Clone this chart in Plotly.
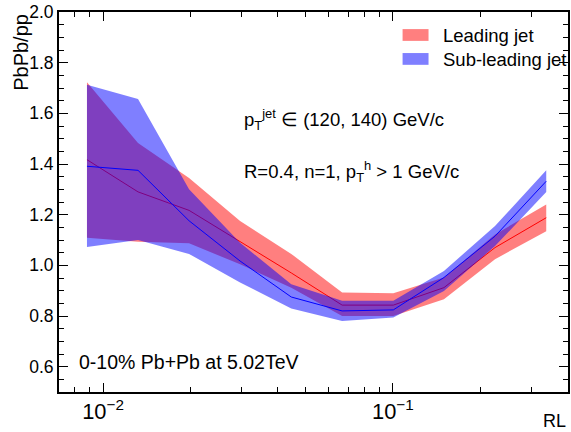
import plotly.graph_objects as go

# ---- data ----
rl = [0.0088, 0.0132, 0.0198, 0.0297, 0.0446, 0.0668, 0.1003, 0.150, 0.225, 0.338]

lead_mid = [1.417, 1.290, 1.217, 1.095, 0.970, 0.843, 0.843, 0.912, 1.070, 1.188]
lead_hi  = [1.723, 1.483, 1.345, 1.175, 1.045, 0.893, 0.890, 0.952, 1.122, 1.240]
lead_lo  = [1.109, 1.093, 1.087, 1.004, 0.912, 0.800, 0.800, 0.866, 1.024, 1.135]

sub_mid = [1.391, 1.375, 1.176, 1.017, 0.875, 0.820, 0.824, 0.952, 1.115, 1.332]
sub_hi  = [1.713, 1.657, 1.300, 1.089, 0.925, 0.860, 0.860, 0.978, 1.155, 1.375]
sub_lo  = [1.072, 1.100, 1.045, 0.932, 0.830, 0.780, 0.794, 0.899, 1.076, 1.289]

series = [
    ("Leading jet", lead_mid, lead_hi, lead_lo, "rgba(255,0,0,0.5)", "rgb(255,0,0)"),
    ("Sub-leading jet", sub_mid, sub_hi, sub_lo, "rgba(0,0,255,0.5)", "rgb(0,0,255)"),
]

FONT = "Liberation Sans, Arial, Helvetica, sans-serif"

fig = go.Figure()
for name, mid, hi, lo, fc, lc in series:
    fig.add_trace(go.Scatter(
        x=rl + rl[::-1], y=hi + lo[::-1], fill="toself", fillcolor=fc,
        line=dict(width=0), mode="lines", name=name, showlegend=False,
        hoverinfo="skip"))
    fig.add_trace(go.Scatter(
        x=rl, y=mid, mode="lines", line=dict(color=lc, width=1),
        showlegend=False))

# legend drawn manually (ROOT style)
leg = [("Leading jet", "rgba(255,0,0,0.5)", 0.924, 0.955, 0.939),
       ("Sub-leading jet", "rgba(0,0,255,0.5)", 0.861, 0.892, 0.876)]
for txt, col, y0, y1, yc in leg:
    fig.add_shape(type="rect", xref="paper", yref="paper",
                  x0=0.675, x1=0.726, y0=y0, y1=y1,
                  fillcolor=col, line=dict(width=0))
    fig.add_annotation(xref="paper", yref="paper", x=0.751, y=yc,
                       text=txt, showarrow=False, xanchor="left",
                       yanchor="middle", font=dict(size=18.5, color="black"))

fig.add_annotation(xref="paper", yref="paper", x=0.36, y=0.716,
                   text="p<sub>T</sub><sup>jet</sup> \u2208 (120, 140) GeV/c",
                   showarrow=False, xanchor="left", yanchor="middle",
                   font=dict(size=18.5, color="black"))
fig.add_annotation(xref="paper", yref="paper", x=0.36, y=0.579,
                   text="R=0.4, n=1, p<sub>T</sub><sup>h</sup> > 1 GeV/c",
                   showarrow=False, xanchor="left", yanchor="middle",
                   font=dict(size=18.5, color="black"))
fig.add_annotation(xref="paper", yref="paper", x=0.035, y=0.08,
                   text="0-10% Pb+Pb at 5.02TeV",
                   showarrow=False, xanchor="left", yanchor="middle",
                   font=dict(size=19.5, color="black"))
# axis titles
fig.add_annotation(xref="paper", yref="paper", x=-0.076, y=1.0,
                   text="PbPb/pp", textangle=-90, showarrow=False,
                   xanchor="center", yanchor="top",
                   font=dict(size=20, color="black"))
fig.add_annotation(xref="paper", yref="paper", x=1.0, y=-0.075,
                   text="RL", showarrow=False, xanchor="right",
                   yanchor="middle", font=dict(size=18, color="black"))

fig.update_xaxes(
    type="log", range=[-2.152, -0.396], dtick=1, exponentformat="power",
    showgrid=False, zeroline=False, showline=True, linecolor="black",
    linewidth=2, mirror="allticks", ticks="inside", ticklen=9,
    tickcolor="black", tickwidth=1,
    tickfont=dict(size=17.5, color="black"),
    minor=dict(ticks="inside", ticklen=5, dtick="D1", tickcolor="black",
               showgrid=False),
)
fig.update_yaxes(
    range=[0.5, 2.0], dtick=0.2, tick0=0.6, tickformat=".1f",
    showgrid=False, zeroline=False, showline=True, linecolor="black",
    linewidth=2, mirror="allticks", ticks="inside", ticklen=9,
    tickcolor="black", tickwidth=1,
    tickfont=dict(size=17.5, color="black"),
    minor=dict(ticks="inside", ticklen=5, dtick=0.05, tickcolor="black",
               showgrid=False),
)
fig.update_layout(
    width=571, height=432,
    margin=dict(l=59, r=1, t=12, b=40),
    plot_bgcolor="white", paper_bgcolor="white",
    font=dict(family=FONT, color="black"),
    showlegend=False,
)
fig.write_html("out.html")
